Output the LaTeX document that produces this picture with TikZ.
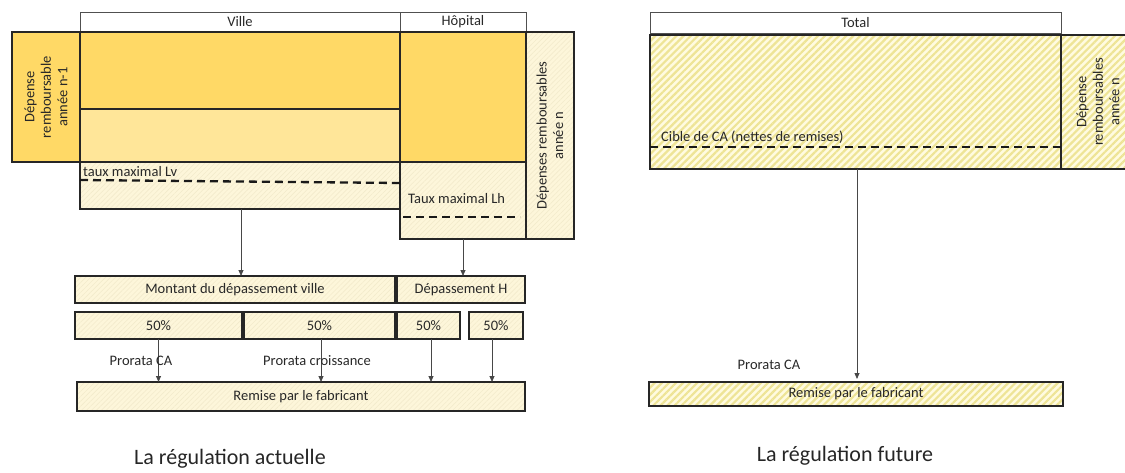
\documentclass[tikz,border=0pt]{standalone}
\usepackage{fontspec}
\setmainfont{Carlito}
\usetikzlibrary{arrows.meta,patterns.meta}
\definecolor{gold}{RGB}{255,217,102}
\definecolor{lgold}{RGB}{255,230,153}
\definecolor{cream}{RGB}{253,246,218}
\definecolor{hatchc}{RGB}{243,235,204}
\definecolor{stripe}{RGB}{238,228,150}
\definecolor{stripebg}{RGB}{255,251,224}
\definecolor{edge}{RGB}{38,38,38}
\definecolor{hedge}{RGB}{80,80,80}
\definecolor{txt}{RGB}{40,40,40}
\begin{document}
\begin{tikzpicture}[x=1pt,y=-1pt,
  font=\fontsize{14.5}{16.5}\selectfont, text=txt,
  sz/.style 2 args={minimum width=#1pt, minimum height=#2pt, inner sep=0pt, outer sep=0pt, anchor=center},
  blk/.style={draw=edge, line width=1.3pt},
  hdr/.style={draw=hedge, line width=0.9pt, fill=white},
  goldbox/.style={blk, fill=gold},
  lgoldbox/.style={blk, fill=lgold},
  pale/.style={blk, preaction={fill=cream}, pattern={Lines[angle=45,distance=3.5pt,line width=0.6pt]}, pattern color=hatchc},
  stripes/.style={blk, preaction={fill=stripebg}, pattern={Lines[angle=45,distance=5pt,line width=2.2pt]}, pattern color=stripe},
  arr/.style={draw=black!72, line width=0.8pt, -{Triangle[length=6pt,width=5pt]}},
  dline/.style={draw=black!90, line width=2.3pt, dash pattern=on 8pt off 5pt},
  lbl/.style={inner sep=0pt, anchor=west},
  rot/.style={rotate=90, align=center, inner sep=0pt},
  title/.style={font=\fontsize{22}{26}\selectfont, text=black!85, inner sep=0pt}
]
\useasboundingbox (0,0) rectangle (1125,472);

% ---------- La regulation actuelle ----------
\node[hdr, sz={320}{20}] (villeH) at (240,22) {Ville};
\node[hdr, sz={126}{20}] (hopH) at (463,22) {Hôpital};
\node[goldbox, sz={68}{130}] (prev) at (46,97) {};
\node[rot] (prevT) at (prev.center) {Dépense\\remboursable\\année n-1};
\node[goldbox, sz={320}{77}] (villeDark) at (240,70.5) {};
\node[lgoldbox, sz={320}{53}] (villeLight) at (240,135.5) {};
\node[pale, sz={320}{47}] (villeHatch) at (240,185.5) {};
\node[goldbox, sz={126}{130}] (hopDark) at (463,97) {};
\node[pale, sz={126}{77}] (hopHatch) at (463,200.5) {};
\node[pale, sz={48}{207}] (curr) at (550,135.5) {};
\node[rot] (currT) at (curr.center) {Dépenses remboursables\\année n};

\node[lbl] (lv) at (83,172) {taux maximal Lv};
\draw[dline] ([yshift=-18pt]villeHatch.north west) -- ([yshift=-21pt]villeHatch.north east);
\node[lbl] (lh) at (408,199) {Taux maximal Lh};
\draw[dline] ([xshift=3pt,yshift=-55pt]hopHatch.north west) -- ([xshift=-6pt,yshift=-55pt]hopHatch.north east);

\node[pale, sz={320}{27}] (montant) at (235,289.5) {Montant du dépassement ville};
\node[pale, sz={128}{27}] (depH) at (461,289.5) {Dépassement H};
\node[pale, sz={167}{27}] (p1) at (158.5,325.5) {50\%};
\node[pale, sz={151}{27}] (p2) at (319.5,325.5) {50\%};
\node[pale, sz={63}{27}] (p3) at (428.5,325.5) {50\%};
\node[pale, sz={54}{27}] (p4) at (496,325.5) {50\%};
\node[pale, sz={448}{29}] (remise) at (301,396.5) {Remise par le fabricant};

\draw[arr] ([xshift=1pt]villeHatch.south) -- ([xshift=1pt]villeHatch.south |- montant.north);
\draw[arr] (hopHatch.south) -- (hopHatch.south |- depH.north);
\draw[arr] (p1.south) -- (p1.south |- remise.north);
\draw[arr] ([xshift=1.5pt]p2.south) -- ([xshift=1.5pt]p2.south |- remise.north);
\draw[arr] ([xshift=2.5pt]p3.south) -- ([xshift=2.5pt]p3.south |- remise.north);
\draw[arr] ([xshift=-4pt]p4.south) -- ([xshift=-4pt]p4.south |- remise.north);

\node[inner sep=0pt] (pca) at (141,361) {Prorata CA};
\node[inner sep=0pt] (pcr) at (317,361) {Prorata croissance};
\node[title] (t1) at (230,459) {La régulation actuelle};

% ---------- La regulation future ----------
\node[hdr, sz={411}{21}] (totH) at (855.5,22.5) {Total};
\node[stripes, sz={411}{134}] (main) at (855.5,102) {};
\node[stripes, sz={74}{134}] (rb) at (1098,102) {};
\node[rot] (rbT) at (rb.center) {Dépense\\remboursables\\année n};
\draw[dline] ([yshift=-112pt]main.north west) -- ([yshift=-112pt]main.north east);
\node[lbl] (cible) at (661,137) {Cible de CA (nettes de remises)};
\node[stripes, sz={414}{24}] (remise2) at (856,394) {Remise par le fabricant};
\draw[arr] ([xshift=1.5pt]main.south) -- ([xshift=1.5pt,yshift=3pt]main.south |- remise2.north);
\node[inner sep=0pt] (pca2) at (769,365) {Prorata CA};
\node[title] (t2) at (845,456) {La régulation future};
\end{tikzpicture}
\end{document}
